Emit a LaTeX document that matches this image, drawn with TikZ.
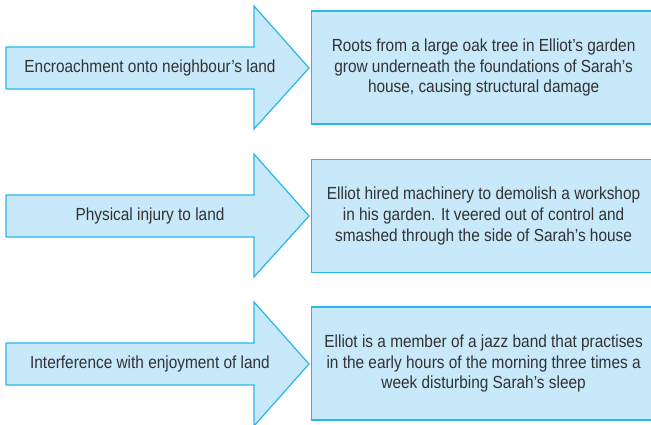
\documentclass[tikz,border=0pt]{standalone}
\usepackage{fontspec}
\setmainfont{Liberation Sans}[FakeStretch=0.88]
\definecolor{arrowblue}{RGB}{199,233,249}
\definecolor{edgeblue}{RGB}{40,182,236}
\definecolor{inkgrey}{RGB}{50,50,52}
\tikzset{
  bigarrow/.style={fill=arrowblue, draw=edgeblue, line width=1.2pt, line join=miter},
  label/.style={text=inkgrey, font=\fontsize{17.5}{20.7}\selectfont, inner sep=0pt},
  factbox/.style={fill=arrowblue, draw=edgeblue, line width=1.2pt, text=inkgrey,
    font=\fontsize{17.5}{20.7}\selectfont, align=center,
    minimum width=344pt, minimum height=113pt, inner sep=0pt, anchor=west}
}
\begin{document}
\begin{tikzpicture}[x=1pt,y=-1pt]
\useasboundingbox (0,0) rectangle (651,424);
% arrows
\draw[bigarrow] (6,47) -- (254,47) -- (254,6) -- (309,68) -- (254,129) -- (254,89) -- (6,89) -- cycle;
\draw[bigarrow] (6,195) -- (254,195) -- (254,154) -- (309,216) -- (254,277) -- (254,237) -- (6,237) -- cycle;
\draw[bigarrow] (6,343) -- (254,343) -- (254,302) -- (309,364) -- (254,426) -- (254,385) -- (6,385) -- cycle;
% nodes
\node[label] (harm1) at (150,68) {Encroachment onto neighbour’s land};
\node[label] (harm2) at (150,216) {Physical injury to land};
\node[label] (harm3) at (150,364) {Interference with enjoyment of land};
\node[factbox] (fact1) at (311,67.5) {Roots from a large oak tree in Elliot’s garden\\grow underneath the foundations of Sarah’s\\house, causing structural damage};
\node[factbox] (fact2) at (311,216) {Elliot hired machinery to demolish a workshop\\in his garden. It veered out of control and\\smashed through the side of Sarah’s house};
\node[factbox] (fact3) at (311,363.5) {Elliot is a member of a jazz band that practises\\in the early hours of the morning three times a\\week disturbing Sarah’s sleep};
\end{tikzpicture}
\end{document}
